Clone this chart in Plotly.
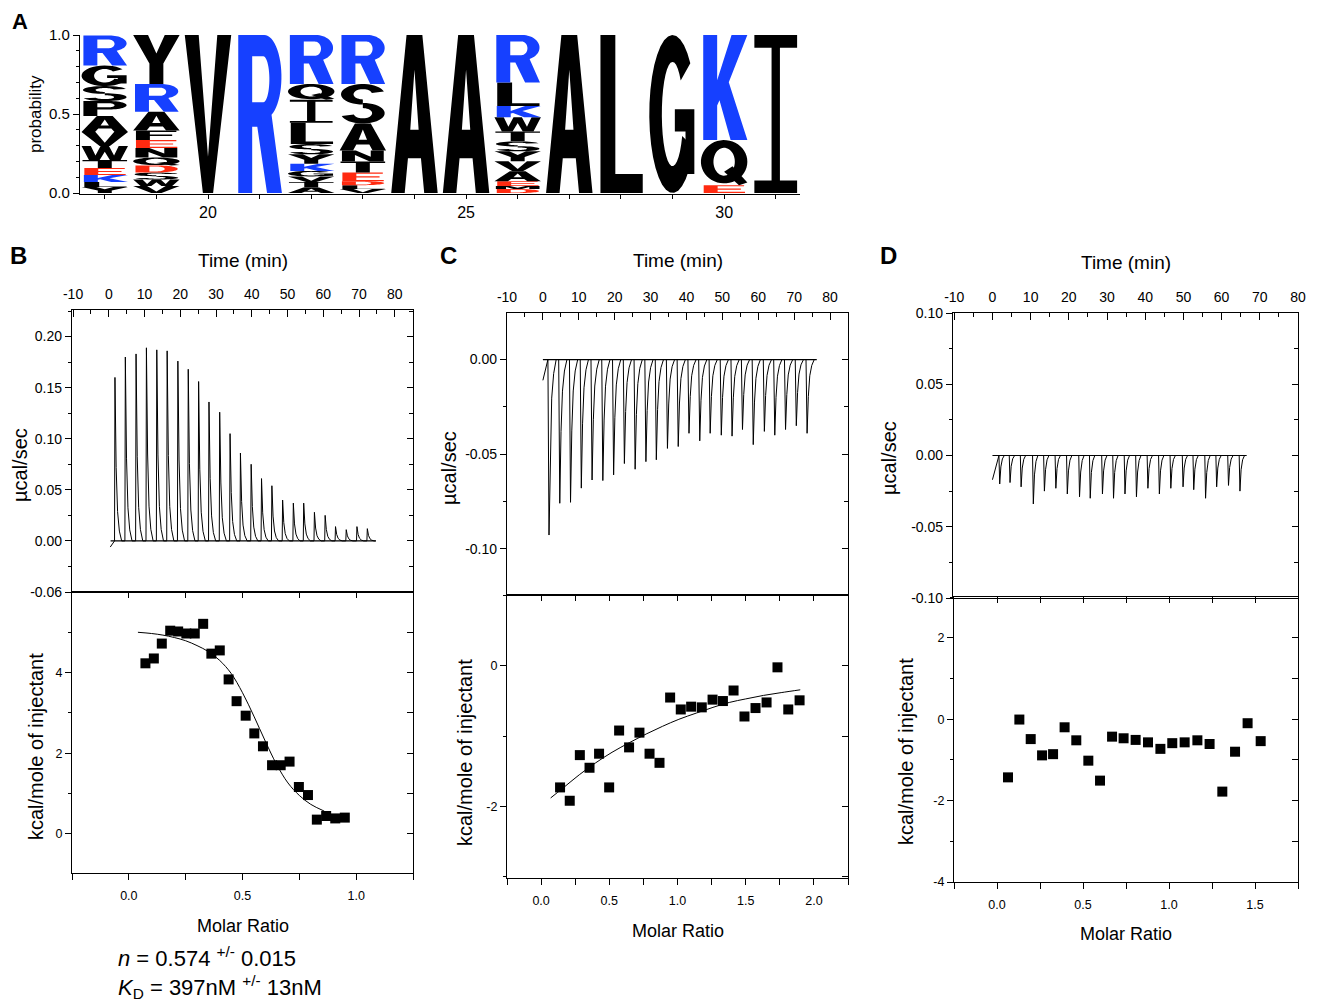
import numpy as np
import plotly.graph_objects as go

W, H = 1317, 1002          # target picture size
OFF = 8                    # default page margin around the plot
FW, FH = W - OFF, H - OFF  # figure size
FONT = "Liberation Sans, Arial, Helvetica, sans-serif"
BLUE = "#1640ff"
RED = "#ff2a10"

# ---------------- Panel A: sequence logo (letters listed top -> bottom) ----------------
logo_positions = [18, 19, 20, 21, 22, 23, 24, 25, 26, 27, 28, 29, 30, 31]
logo_letters = ["RGSPAVWTEKLY", "YRAFENQDSWV", "V", "R", "RQILSYKGVTA", "RSANTEDLV",
                "A", "A", "RLKWTSYVAEMD", "A", "L", "G", "KQE", "I"]
logo_heights = [
    [0.19, 0.13, 0.095, 0.095, 0.10, 0.09, 0.088, 0.051, 0.044, 0.044, 0.032, 0.038],
    [0.31, 0.175, 0.12, 0.06, 0.05, 0.06, 0.05, 0.045, 0.045, 0.04, 0.045],
    [1.0],
    [1.0],
    [0.31, 0.10, 0.145, 0.135, 0.065, 0.06, 0.045, 0.035, 0.035, 0.035, 0.035],
    [0.31, 0.25, 0.17, 0.07, 0.07, 0.055, 0.025, 0.025, 0.025],
    [1.0],
    [1.0],
    [0.30, 0.15, 0.07, 0.09, 0.063, 0.063, 0.063, 0.063, 0.063, 0.03, 0.02, 0.025],
    [1.0],
    [1.0],
    [1.0],
    [0.665, 0.285, 0.05],
    [1.0],
]
logo_xtick_vals = [20, 25, 30]
logo_xtick_text = ["20", "25", "30"]
logo_ytick_vals = [0.0, 0.5, 1.0]
logo_ytick_text = ["0.0", "0.5", "1.0"]

time_tick_vals = [-10, 0, 10, 20, 30, 40, 50, 60, 70, 80]
time_tick_text = ["-10", "0", "10", "20", "30", "40", "50", "60", "70", "80"]

# ---------------- Panel B ----------------
b_inj_time = [1.6, 4.5, 7.5, 10.4, 13.3, 16.2, 19.2, 22.1, 25.0, 27.9, 30.9, 33.8, 36.7,
              39.7, 42.6, 45.5, 48.5, 51.5, 54.4, 57.4, 60.4, 63.3, 66.3, 69.3, 72.2]
b_inj_peak = [0.160, 0.180, 0.183, 0.189, 0.187, 0.186, 0.176, 0.168, 0.156, 0.136, 0.126,
              0.105, 0.086, 0.075, 0.061, 0.054, 0.040, 0.037, 0.037, 0.028, 0.025, 0.014,
              0.011, 0.014, 0.012]
b_trace_start = [0.4, -0.006]
b_trace_end = 74.7
b_baseline_time = [0.5, 74.7]
b_ratio = [0.073, 0.110, 0.145, 0.182, 0.217, 0.253, 0.290, 0.327, 0.363, 0.400, 0.439, 0.474,
           0.514, 0.552, 0.590, 0.630, 0.668, 0.707, 0.748, 0.788, 0.827, 0.868, 0.908, 0.950]
b_heat = [4.23, 4.35, 4.72, 5.04, 5.02, 4.97, 4.97, 5.21, 4.47, 4.55, 3.83, 3.29,
          2.93, 2.49, 2.17, 1.70, 1.70, 1.79, 1.16, 0.96, 0.35, 0.44, 0.38, 0.40]
b_fit_ratio = [0.04, 0.10, 0.15, 0.20, 0.25, 0.30, 0.35, 0.40, 0.45, 0.50, 0.55, 0.60, 0.65,
               0.70, 0.75, 0.80, 0.86]
b_fit_heat = [5.00, 4.97, 4.93, 4.87, 4.79, 4.67, 4.52, 4.30, 3.98, 3.50, 2.92, 2.30, 1.72,
              1.26, 0.95, 0.73, 0.56]

# ---------------- Panel C ----------------
c_inj_time = [1.4, 4.4, 7.4, 10.4, 13.4, 16.4, 19.4, 22.4, 25.4, 28.4, 31.3, 34.4, 37.4,
              40.4, 43.4, 46.3, 49.4, 52.4, 55.3, 58.3, 61.4, 64.3, 67.3, 70.3, 73.3]
c_inj_peak = [-0.0928, -0.076, -0.0755, -0.068, -0.0637, -0.064, -0.061, -0.055, -0.058,
              -0.054, -0.053, -0.047, -0.046, -0.039, -0.043, -0.039, -0.040, -0.0405,
              -0.037, -0.045, -0.038, -0.040, -0.037, -0.035, -0.039]
c_trace_start = [0.0, -0.011]
c_trace_end = 76.0
c_baseline_time = [0.0, 76.3]
c_ratio = [0.139, 0.210, 0.284, 0.355, 0.425, 0.499, 0.572, 0.645, 0.721, 0.795, 0.868, 0.946,
           1.024, 1.100, 1.178, 1.257, 1.333, 1.411, 1.491, 1.572, 1.653, 1.733, 1.812, 1.895]
c_heat = [-1.73, -1.92, -1.27, -1.45, -1.25, -1.73, -0.92, -1.16, -0.95, -1.25, -1.38, -0.45,
          -0.62, -0.58, -0.59, -0.48, -0.50, -0.35, -0.72, -0.60, -0.52, -0.02, -0.62, -0.49]
c_fit_ratio = [0.07, 0.16, 0.28, 0.40, 0.52, 0.65, 0.77, 0.89, 1.01, 1.14, 1.26, 1.38, 1.50,
               1.63, 1.76, 1.90]
c_fit_heat = [-1.88, -1.74, -1.55, -1.38, -1.23, -1.09, -0.97, -0.86, -0.76, -0.67, -0.59,
              -0.52, -0.47, -0.42, -0.38, -0.34]

# ---------------- Panel D ----------------
d_inj_time = [1.7, 4.4, 7.3, 10.5, 13.4, 16.4, 19.4, 22.6, 25.4, 28.6, 31.5, 34.5, 37.5,
              40.5, 43.5, 46.5, 49.7, 52.5, 55.6, 58.5, 61.6, 64.6]
d_inj_peak = [-0.020, -0.019, -0.022, -0.034, -0.025, -0.023, -0.027, -0.029, -0.030, -0.027,
              -0.030, -0.027, -0.029, -0.023, -0.027, -0.023, -0.022, -0.024, -0.030, -0.022,
              -0.021, -0.025]
d_trace_start = [0.0, -0.017]
d_trace_end = 66.5
d_baseline_time = [0.0, 66.5]
d_ratio = [0.064, 0.130, 0.196, 0.262, 0.326, 0.393, 0.461, 0.531, 0.599, 0.669, 0.736,
           0.806, 0.878, 0.950, 1.019, 1.091, 1.165, 1.236, 1.310, 1.384, 1.457, 1.533]
d_heat = [-1.43, -0.01, -0.49, -0.89, -0.86, -0.20, -0.52, -1.02, -1.51, -0.43, -0.47,
          -0.51, -0.57, -0.73, -0.59, -0.57, -0.52, -0.61, -1.78, -0.80, -0.10, -0.54]

# ======================= glyphs (style) =======================
def arc(cx, cy, rx, ry, a0, a1, n=26):
    a = np.radians(np.linspace(a0, a1, n))
    return [(cx + rx * np.cos(t), cy + ry * np.sin(t)) for t in a]


def ring_arc(cx, cy, ro, ri, a0, a1, n=30):
    return arc(cx, cy, ro[0], ro[1], a0, a1, n) + arc(cx, cy, ri[0], ri[1], a1, a0, n)


GLYPHS = {
    'A': [[[(0, 0), (0.33, 1), (0.67, 1), (1, 0), (0.71, 0), (0.64, 0.22), (0.36, 0.22), (0.29, 0)],
           [(0.41, 0.40), (0.59, 0.40), (0.5, 0.78)]]],
    'V': [[[(0, 1), (0.3, 1), (0.5, 0.23), (0.7, 1), (1, 1), (0.61, 0), (0.39, 0)]]],
    'I': [[[(0.04, 1), (0.96, 1), (0.96, 0.92), (0.59, 0.92), (0.59, 0.08), (0.96, 0.08),
            (0.96, 0), (0.04, 0), (0.04, 0.08), (0.41, 0.08), (0.41, 0.92), (0.04, 0.92)]]],
    'L': [[[(0.06, 1), (0.38, 1), (0.38, 0.12), (0.97, 0.12), (0.97, 0), (0.06, 0)]]],
    'T': [[[(0.02, 1), (0.98, 1), (0.98, 0.86), (0.65, 0.86), (0.65, 0), (0.35, 0), (0.35, 0.86),
            (0.02, 0.86)]]],
    'Y': [[[(0, 1), (0.32, 1), (0.5, 0.62), (0.68, 1), (1, 1), (0.65, 0.42), (0.65, 0), (0.35, 0),
            (0.35, 0.42)]]],
    'W': [[[(0, 1), (0.2, 1), (0.3, 0.32), (0.41, 1), (0.59, 1), (0.7, 0.32), (0.8, 1), (1, 1),
            (0.84, 0), (0.61, 0), (0.5, 0.6), (0.39, 0), (0.16, 0)]]],
    'K': [[[(0.05, 0), (0.05, 1), (0.35, 1), (0.35, 0.57), (0.66, 1), (1.0, 1), (0.6, 0.55),
            (1.0, 0), (0.64, 0), (0.4, 0.38), (0.35, 0.33), (0.35, 0)]]],
    'N': [[[(0.05, 0), (0.05, 1), (0.35, 1), (0.67, 0.42), (0.67, 1), (0.95, 1), (0.95, 0),
            (0.65, 0), (0.33, 0.58), (0.33, 0)]]],
    'M': [[[(0.03, 0), (0.03, 1), (0.33, 1), (0.5, 0.42), (0.67, 1), (0.97, 1), (0.97, 0),
            (0.75, 0), (0.75, 0.68), (0.59, 0), (0.41, 0), (0.25, 0.68), (0.25, 0)]]],
    'E': [[[(0.06, 0), (0.06, 1), (0.93, 1), (0.93, 0.85), (0.36, 0.85), (0.36, 0.58),
            (0.86, 0.58), (0.86, 0.43), (0.36, 0.43), (0.36, 0.15), (0.95, 0.15), (0.95, 0)]]],
    'F': [[[(0.06, 0), (0.06, 1), (0.93, 1), (0.93, 0.85), (0.36, 0.85), (0.36, 0.58),
            (0.84, 0.58), (0.84, 0.43), (0.36, 0.43), (0.36, 0)]]],
    'D': [[[(0.05, 0), (0.05, 1)] + arc(0.5, 0.5, 0.46, 0.5, 90, -90),
           [(0.35, 0.15), (0.35, 0.85)] + arc(0.5, 0.5, 0.18, 0.35, 90, -90)]],
    'P': [[[(0.04, 0), (0.04, 1)] + arc(0.6, 0.72, 0.37, 0.28, 90, -90) + [(0.34, 0.44), (0.34, 0)],
           [(0.34, 0.86)] + arc(0.58, 0.72, 0.13, 0.14, 90, -90) + [(0.34, 0.58)]]],
    'R': [[[(0.04, 0), (0.04, 1)] + arc(0.6, 0.735, 0.37, 0.265, 90, -65) +
           [(0.98, 0), (0.66, 0), (0.45, 0.42), (0.34, 0.42), (0.34, 0)],
           [(0.34, 0.865)] + arc(0.58, 0.72, 0.13, 0.145, 90, -90) + [(0.34, 0.575)]]],
    'C': [[ring_arc(0.5, 0.5, (0.5, 0.5), (0.23, 0.33), 40, 320)]],
    'G': [[ring_arc(0.5, 0.5, (0.5, 0.5), (0.23, 0.33), 40, 335)],
          [[(0.55, 0.53), (0.97, 0.53), (0.97, 0.12), (0.78, 0.12), (0.78, 0.39), (0.55, 0.39)]]],
    'Q': [[arc(0.5, 0.52, 0.5, 0.48, 0, 360, 48), arc(0.5, 0.52, 0.23, 0.31, 0, 360, 48)],
          [[(0.5, 0.3), (0.68, 0.42), (1.0, 0.06), (0.82, 0.0)]]],
    'S': [[ring_arc(0.5, 0.74, (0.47, 0.26), (0.2, 0.13), 15, 270)],
          [ring_arc(0.5, 0.26, (0.47, 0.26), (0.2, 0.13), 90, -165)]],
}


def letter_color(ch):
    if ch in "RKH":
        return BLUE
    if ch in "DE":
        return RED
    return "black"


def glyph_shapes(ch, xc, y0, h, w=0.9):
    out = []
    for part in GLYPHS[ch]:
        segs = []
        for ring in part:
            pts = [(xc - w / 2 + gx * w, y0 + gy * h) for gx, gy in ring]
            segs.append("M" + " L".join(f"{x:.4f},{y:.5f}" for x, y in pts) + " Z")
        out.append(dict(type="path", path=" ".join(segs), xref="x", yref="y",
                        fillcolor=letter_color(ch), line=dict(width=0),
                        fillrule="evenodd", layer="above"))
    return out


# ======================= thermogram builder (peak shape is style) =======================
def thermogram(start, t_end, inj_t, inj_v, dt, fr):
    xs, ys = [start[0]], [start[1]]
    for t, v in zip(inj_t, inj_v):
        for d, f in zip(dt, fr):
            xs.append(t + d)
            ys.append(v * f)
    xs.append(t_end)
    ys.append(0.0)
    return xs, ys


# ======================= layout helpers (target-picture pixels -> paper) =======================
def pxx(p):
    return (p - OFF) / FW


def pxy(p):
    return 1 - (p - OFF) / FH


def dom_x(x0, x1):
    return [pxx(x0), pxx(x1)]


def dom_y(y0, y1):
    return [pxy(y1), pxy(y0)]


def tickfont(size):
    return dict(family=FONT, size=size, color="black")


BASE = dict(showgrid=False, zeroline=False, linecolor="black", linewidth=1.3,
            tickcolor="black", tickwidth=1.2, ticklen=6, automargin=False)

fig = go.Figure()
layout = dict(width=FW, height=FH, margin=dict(l=0, r=0, t=0, b=0, pad=0), autosize=False,
              paper_bgcolor="white", plot_bgcolor="rgba(0,0,0,0)", showlegend=False)
shapes = []
annotations = []


def ann(text, x, y, size, angle=0, bold=False, xanchor="center", yanchor="middle",
        align="center"):
    annotations.append(dict(text=f"<b>{text}</b>" if bold else text, x=pxx(x), y=pxy(y),
                            xref="paper", yref="paper", showarrow=False, textangle=angle,
                            xanchor=xanchor, yanchor=yanchor, align=align, borderpad=0,
                            font=dict(family=FONT, size=size, color="black")))


# ---------------- logo axes ----------------
layout["xaxis"] = dict(BASE, domain=dom_x(80, 800), anchor="y", range=[17.52, 31.47],
                       tickmode="array", tickvals=logo_xtick_vals, ticktext=logo_xtick_text,
                       ticks="outside", ticklen=4, showline=True, tickfont=tickfont(16),
                       minor=dict(tickmode="linear", tick0=0, dtick=1, ticks="outside",
                                  ticklen=4, tickcolor="black", tickwidth=1.2))
layout["yaxis"] = dict(BASE, domain=dom_y(35, 194), anchor="x", range=[-0.006, 1.0],
                       tickmode="array", tickvals=logo_ytick_vals, ticktext=logo_ytick_text,
                       ticks="outside", ticklen=6, showline=True, tickfont=tickfont(15),
                       minor=dict(tickmode="linear", tick0=0, dtick=0.1, ticks="outside",
                                  ticklen=3, tickcolor="black", tickwidth=1))
fig.add_trace(go.Scatter(x=[], y=[], xaxis="x", yaxis="y", hoverinfo="skip"))

for xc, letters, heights in zip(logo_positions, logo_letters, logo_heights):
    y0 = 0.0
    for ch, h in zip(reversed(letters), reversed(heights)):
        shapes.extend(glyph_shapes(ch, xc, y0, h))
        y0 += h

ann("A", 20, 21, 22, bold=True)
ann("probability", 35, 114, 17, angle=-90)

# ---------------- ITC panels ----------------
panels = [
    dict(label="B", label_xy=(18, 256),
         top_box=(72, 310, 413, 592), bot_box=(72, 592, 413, 873),
         t_range=[-10.3, 85.1], top_yrange=[-0.05, 0.226],
         top_ytickvals=[-0.05, 0.0, 0.05, 0.10, 0.15, 0.20],
         top_yticktext=["-0.06", "0.00", "0.05", "0.10", "0.15", "0.20"],
         bot_xrange=[-0.25, 1.25], bot_xticks=[0.0, 0.5, 1.0],
         bot_yrange=[-0.975, 6.0], bot_yticks=[0, 2, 4],
         inj_t=b_inj_time, inj_v=b_inj_peak, start=b_trace_start, t_end=b_trace_end,
         base_t=b_baseline_time,
         dt=[0.0, 0.12, 0.45, 0.85, 1.35, 2.0], fr=[0.0, 1.0, 0.45, 0.18, 0.06, 0.0],
         ratio=b_ratio, heat=b_heat, fit_r=b_fit_ratio, fit_h=b_fit_heat,
         time_xy=(243, 260), ucal_xy=(20, 465), kcal_xy=(36, 747), molar_xy=(243, 926)),
    dict(label="C", label_xy=(448, 256),
         top_box=(507, 313, 848, 595), bot_box=(507, 595, 848, 878),
         t_range=[-10.0, 85.0], top_yrange=[-0.1245, 0.0246],
         top_ytickvals=[-0.10, -0.05, 0.0],
         top_yticktext=["-0.10", "-0.05", "0.00"],
         bot_xrange=[-0.25, 2.25], bot_xticks=[0.0, 0.5, 1.0, 1.5, 2.0],
         bot_yrange=[-3.02, 1.01], bot_yticks=[-2, 0],
         inj_t=c_inj_time, inj_v=c_inj_peak, start=c_trace_start, t_end=c_trace_end,
         base_t=c_baseline_time,
         dt=[0.0, 0.3, 0.65, 1.05, 1.6, 2.3], fr=[0.0, 1.0, 0.5, 0.22, 0.08, 0.0],
         ratio=c_ratio, heat=c_heat, fit_r=c_fit_ratio, fit_h=c_fit_heat,
         time_xy=(678, 261), ucal_xy=(449, 468), kcal_xy=(465, 752), molar_xy=(678, 931)),
    dict(label="D", label_xy=(888, 256),
         top_box=(953, 313, 1298, 598), bot_box=(954, 597, 1298, 882),
         t_range=[-10.33, 80.0], top_yrange=[-0.10, 0.10],
         top_ytickvals=[-0.10, -0.05, 0.0, 0.05, 0.10],
         top_yticktext=["-0.10", "-0.05", "0.00", "0.05", "0.10"],
         bot_xrange=[-0.25, 1.75], bot_xticks=[0.0, 0.5, 1.0, 1.5],
         bot_yrange=[-4.0, 3.0], bot_yticks=[-4, -2, 0, 2],
         inj_t=d_inj_time, inj_v=d_inj_peak, start=d_trace_start, t_end=d_trace_end,
         base_t=d_baseline_time,
         dt=[0.0, 0.2, 0.5, 0.9, 1.4], fr=[0.0, 1.0, 0.4, 0.12, 0.0],
         ratio=d_ratio, heat=d_heat, fit_r=None, fit_h=None,
         time_xy=(1126, 262), ucal_xy=(889, 458), kcal_xy=(906, 752), molar_xy=(1126, 934)),
]

nx, ny = 1, 1
for p in panels:
    # --- top subplot: thermogram ---
    nx += 1; xa = nx
    ny += 1; ya = ny
    ny += 1; yr = ny
    x0, y0, x1, y1 = p["top_box"]
    layout[f"xaxis{xa}"] = dict(BASE, domain=dom_x(x0, x1), anchor=f"y{ya}", side="top",
                                range=p["t_range"], tickmode="array", tickvals=time_tick_vals,
                                ticktext=time_tick_text,
                                ticks="inside", ticklen=7, showline=True, mirror=True,
                                tickfont=tickfont(14), ticklabelstandoff=4,
                                minor=dict(tickmode="linear", tick0=0, dtick=5, ticks="inside",
                                           ticklen=4, tickcolor="black", tickwidth=1.2))
    layout[f"yaxis{ya}"] = dict(BASE, domain=dom_y(y0, y1), anchor=f"x{xa}", side="left",
                                range=p["top_yrange"], tickmode="array",
                                tickvals=p["top_ytickvals"], ticktext=p["top_yticktext"],
                                ticks="outside", showline=True, mirror=True,
                                tickfont=tickfont(14),
                                minor=dict(tickmode="linear", tick0=0, dtick=0.025,
                                           ticks="outside", ticklen=3, tickcolor="black",
                                           tickwidth=1))
    layout[f"yaxis{yr}"] = dict(BASE, overlaying=f"y{ya}", anchor=f"x{xa}", side="right",
                                range=p["top_yrange"], tickmode="array",
                                tickvals=p["top_ytickvals"], ticks="inside",
                                showticklabels=False, showline=False,
                                minor=dict(tickmode="linear", tick0=0, dtick=0.025,
                                           ticks="inside", ticklen=4, tickcolor="black",
                                           tickwidth=1.2))
    tx, ty = thermogram(p["start"], p["t_end"], p["inj_t"], p["inj_v"], p["dt"], p["fr"])
    fig.add_trace(go.Scatter(x=tx, y=ty, mode="lines", line=dict(color="black", width=1),
                             xaxis=f"x{xa}", yaxis=f"y{ya}", hoverinfo="skip"))
    fig.add_trace(go.Scatter(x=p["base_t"], y=[0, 0], mode="lines",
                             line=dict(color="black", width=1.2),
                             xaxis=f"x{xa}", yaxis=f"y{ya}", hoverinfo="skip"))
    fig.add_trace(go.Scatter(x=[], y=[], xaxis=f"x{xa}", yaxis=f"y{yr}", hoverinfo="skip"))

    # --- bottom subplot: integrated heats ---
    nx += 1; xb = nx
    ny += 1; yb = ny
    nx += 1; xt = nx
    ny += 1; ybr = ny
    x0, y0, x1, y1 = p["bot_box"]
    layout[f"xaxis{xb}"] = dict(BASE, domain=dom_x(x0, x1), anchor=f"y{yb}", side="bottom",
                                range=p["bot_xrange"], tickmode="array",
                                tickvals=p["bot_xticks"],
                                ticktext=[f"{v:.1f}" for v in p["bot_xticks"]],
                                ticks="outside", showline=True, mirror=True,
                                tickfont=tickfont(12.5), ticklabelstandoff=5,
                                minor=dict(tickmode="linear", tick0=0, dtick=0.25,
                                           ticks="outside", ticklen=6, tickcolor="black",
                                           tickwidth=1.2))
    layout[f"yaxis{yb}"] = dict(BASE, domain=dom_y(y0, y1), anchor=f"x{xb}", side="left",
                                range=p["bot_yrange"], tickmode="array",
                                tickvals=p["bot_yticks"],
                                ticktext=[str(v) for v in p["bot_yticks"]],
                                ticks="outside", showline=True, mirror=True,
                                tickfont=tickfont(12.5),
                                minor=dict(tickmode="linear", tick0=0, dtick=1,
                                           ticks="outside", ticklen=3, tickcolor="black",
                                           tickwidth=1))
    layout[f"xaxis{xt}"] = dict(BASE, overlaying=f"x{xb}", anchor=f"y{yb}", side="top",
                                range=p["bot_xrange"], tickmode="array",
                                tickvals=p["bot_xticks"], ticks="inside",
                                showticklabels=False, showline=False,
                                minor=dict(tickmode="linear", tick0=0, dtick=0.25,
                                           ticks="inside", ticklen=6, tickcolor="black",
                                           tickwidth=1.2))
    layout[f"yaxis{ybr}"] = dict(BASE, overlaying=f"y{yb}", anchor=f"x{xb}", side="right",
                                 range=p["bot_yrange"], tickmode="array",
                                 tickvals=p["bot_yticks"], ticks="inside",
                                 showticklabels=False, showline=False,
                                 minor=dict(tickmode="linear", tick0=0, dtick=1,
                                            ticks="inside", ticklen=6, tickcolor="black",
                                            tickwidth=1.2))
    if p["fit_r"] is not None:
        fig.add_trace(go.Scatter(x=p["fit_r"], y=p["fit_h"], mode="lines",
                                 line=dict(color="black", width=1, shape="spline"),
                                 xaxis=f"x{xb}", yaxis=f"y{yb}", hoverinfo="skip"))
    fig.add_trace(go.Scatter(x=p["ratio"], y=p["heat"], mode="markers",
                             marker=dict(symbol="square", size=10, color="black",
                                         line=dict(width=0)),
                             xaxis=f"x{xb}", yaxis=f"y{yb}", hoverinfo="skip"))
    fig.add_trace(go.Scatter(x=[], y=[], xaxis=f"x{xt}", yaxis=f"y{ybr}", hoverinfo="skip"))

    # --- texts ---
    ann(p["label"], p["label_xy"][0], p["label_xy"][1], 24, bold=True)
    ann("Time (min)", p["time_xy"][0], p["time_xy"][1], 19)
    ann("µcal/sec", p["ucal_xy"][0], p["ucal_xy"][1], 20, angle=-90)
    ann("kcal/mole of injectant", p["kcal_xy"][0], p["kcal_xy"][1], 20, angle=-90)
    ann("Molar Ratio", p["molar_xy"][0], p["molar_xy"][1], 18)

ann("<i>n</i> = 0.574 <sup>+/-</sup> 0.015<br><i>K</i><sub>D</sub> = 397nM <sup>+/-</sup> 13nM",
    117, 972, 22, xanchor="left", align="left")

layout["shapes"] = shapes
layout["annotations"] = annotations
fig.update_layout(**layout)
fig.write_html("out.html")
